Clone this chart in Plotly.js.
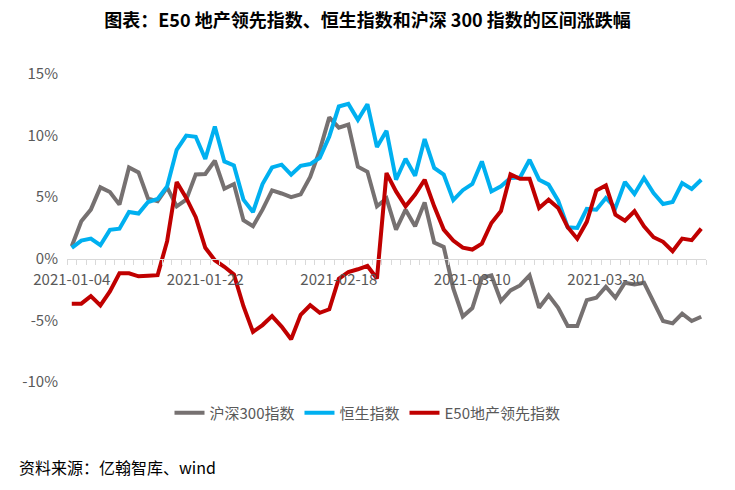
<!DOCTYPE html>
<html>
<head>
<meta charset="utf-8">
<script src="https://cdn.plot.ly/plotly-3.0.1.min.js"></script>
<style>
html,body{margin:0;padding:0;background:#fff;}
#chart{width:735px;height:490px;}
</style>
</head>
<body>
<div id="chart"></div>
<script>
const dates = [
  "2021-01-04","2021-01-05","2021-01-06","2021-01-07","2021-01-08",
  "2021-01-11","2021-01-12","2021-01-13","2021-01-14","2021-01-15",
  "2021-01-18","2021-01-19","2021-01-20","2021-01-21","2021-01-22",
  "2021-01-25","2021-01-26","2021-01-27","2021-01-28","2021-01-29",
  "2021-02-01","2021-02-02","2021-02-03","2021-02-04","2021-02-05",
  "2021-02-08","2021-02-09","2021-02-10","2021-02-18","2021-02-19",
  "2021-02-22","2021-02-23","2021-02-24","2021-02-25","2021-02-26",
  "2021-03-01","2021-03-02","2021-03-03","2021-03-04","2021-03-05",
  "2021-03-08","2021-03-09","2021-03-10","2021-03-11","2021-03-12",
  "2021-03-15","2021-03-16","2021-03-17","2021-03-18","2021-03-19",
  "2021-03-22","2021-03-23","2021-03-24","2021-03-25","2021-03-26",
  "2021-03-29","2021-03-30","2021-03-31","2021-04-01","2021-04-02",
  "2021-04-06","2021-04-07","2021-04-08","2021-04-09","2021-04-12",
  "2021-04-13","2021-04-14"
];

const hs300 = [
  1.02, 3.05, 3.99, 5.80, 5.42, 4.40, 7.42, 7.01, 4.88, 4.67,
  5.80, 4.26, 4.80, 6.85, 6.88, 7.96, 5.69, 6.07, 3.13, 2.64,
  3.99, 5.55, 5.30, 5.00, 5.23, 6.65, 8.80, 11.48, 10.65, 10.90,
  7.47, 7.06, 4.26, 4.90, 2.37, 3.99, 2.64, 4.58, 1.32, 0.96,
  -2.40, -4.68, -4.00, -1.55, -1.35, -3.43, -2.57, -2.16, -1.35, -3.97,
  -2.97, -3.97, -5.45, -5.45, -3.35, -3.16, -2.27, -3.16, -1.94, -2.08,
  -1.94, -3.43, -5.05, -5.24, -4.45, -5.05, -4.70
];

const hsi = [
  0.89, 1.48, 1.64, 1.10, 2.35, 2.45, 3.80, 3.67, 4.61, 4.86,
  5.88, 8.85, 10.00, 9.90, 8.10, 10.74, 7.90, 7.58, 4.80, 3.80,
  6.07, 7.42, 7.64, 6.83, 7.55, 7.69, 8.20, 9.93, 12.36, 12.57,
  11.28, 12.55, 9.07, 10.39, 6.42, 8.12, 6.74, 9.72, 7.37, 6.83,
  4.76, 5.57, 6.07, 7.90, 5.47, 5.88, 6.56, 6.60, 8.04, 6.42,
  6.02, 4.72, 2.56, 2.51, 4.05, 3.99, 4.94, 4.13, 6.23, 5.26,
  6.56, 5.34, 4.45, 4.61, 6.15, 5.67, 6.42
];

const e50 = [
  -3.64, -3.64, -3.03, -3.78, -2.65, -1.18, -1.18, -1.42, -1.38, -1.33,
  1.43, 6.23, 4.94, 3.38, 0.89, -0.11, -0.65, -1.27, -3.85, -5.93,
  -5.38, -4.65, -5.50, -6.53, -4.55, -3.77, -4.38, -4.10, -1.62, -1.07,
  -0.85, -0.58, -1.60, 6.96, 5.47, 4.26, 5.21, 6.42, 4.26, 2.37,
  1.48, 0.91, 0.75, 1.23, 2.91, 3.88, 6.85, 6.50, 6.50, 4.13,
  4.80, 4.13, 2.56, 1.63, 3.00, 5.54, 5.95, 3.59, 3.10, 3.86,
  2.64, 1.75, 1.38, 0.62, 1.64, 1.51, 2.45
];

const seriesNames = ["沪深300指数", "恒生指数", "E50地产领先指数"];
const yTickVals = [-10, -5, 0, 5, 10, 15];
const yTickText = ["-10%", "-5%", "0%", "5%", "10%", "15%"];
const labelEvery = 14;

const FONT = '"Noto Sans CJK SC", "Microsoft YaHei", sans-serif';

const traces = [
  {x: dates, y: hs300, name: seriesNames[0], type: 'scatter', mode: 'lines',
   line: {color: '#767171', width: 4}},
  {x: dates, y: hsi, name: seriesNames[1], type: 'scatter', mode: 'lines',
   line: {color: '#00B0F0', width: 4}},
  {x: dates, y: e50, name: seriesNames[2], type: 'scatter', mode: 'lines',
   line: {color: '#C00000', width: 4}}
];

const layout = {
  width: 735, height: 490,
  margin: {l: 67, r: 29, t: 74, b: 108},
  paper_bgcolor: '#ffffff', plot_bgcolor: '#ffffff',
  font: {family: FONT, size: 15, color: '#595959'},
  title: {
    text: '<b>图表：E50 地产领先指数、恒生指数和沪深 300 指数的区间涨跌幅</b>',
    font: {family: FONT, size: 18, color: '#000000'},
    x: 0.5, xref: 'container', xanchor: 'center',
    y: 1 - 21 / 490, yref: 'container', yanchor: 'middle'
  },
  xaxis: {
    type: 'category',
    anchor: 'free', position: 0.4,
    range: [-0.5, dates.length - 0.5],
    tickmode: 'array',
    tickvals: dates,
    ticktext: dates.map((d, i) => (i % labelEvery === 0 ? d : '')),
    tickson: 'boundaries',
    ticks: 'outside', ticklen: 5, tickcolor: '#d9d9d9', tickwidth: 1,
    showline: true, linecolor: '#d9d9d9', linewidth: 1,
    showgrid: false, zeroline: false,
    tickangle: 0,
    ticklabelstandoff: 7,
    tickfont: {family: FONT, size: 15, color: '#595959'}
  },
  yaxis: {
    range: [-10, 15],
    tickmode: 'array', tickvals: yTickVals, ticktext: yTickText,
    showgrid: false, zeroline: false, showline: false, ticks: '',
    ticklabelstandoff: 8,
    tickfont: {family: FONT, size: 15, color: '#595959'}
  },
  showlegend: true,
  legend: {
    orientation: 'h',
    xref: 'container', x: 0.5, xanchor: 'center',
    yref: 'container', y: 1 - 413 / 490, yanchor: 'middle',
    font: {family: FONT, size: 15, color: '#595959'},
    itemwidth: 30, tracegroupgap: 0
  },
  annotations: [{
    text: '资料来源：亿翰智库、wind',
    xref: 'paper', yref: 'paper',
    x: (17 - 67) / (706 - 67), y: (382 - 467) / 308,
    xanchor: 'left', yanchor: 'middle', showarrow: false,
    font: {family: FONT, size: 16, color: '#000000'}
  }]
};

Plotly.newPlot('chart', traces, layout, {displayModeBar: false, staticPlot: true});
</script>
</body>
</html>
